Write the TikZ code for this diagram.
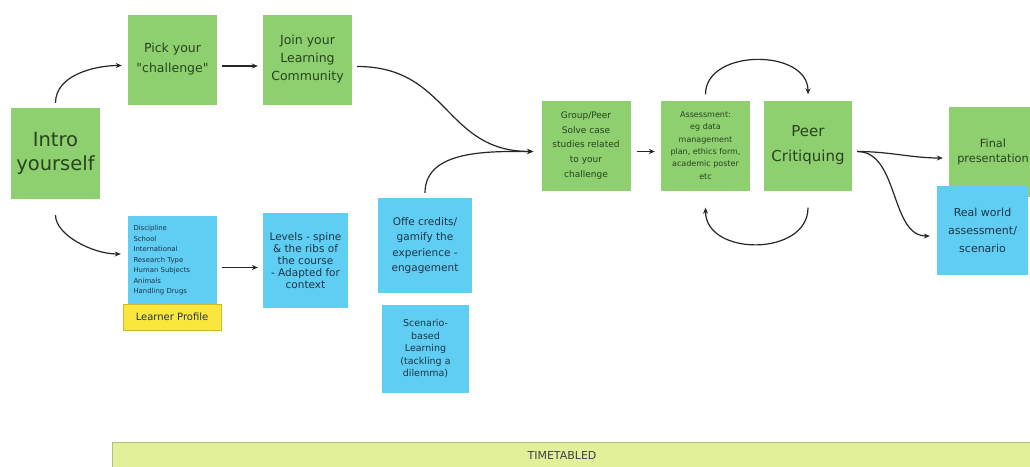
\documentclass[tikz,border=0pt]{standalone}
\usepackage{fontspec}
\setmainfont{DejaVu Sans}
\usetikzlibrary{arrows.meta}

\definecolor{notegreen}{RGB}{142,207,112}
\definecolor{noteblue}{RGB}{96,205,243}
\definecolor{noteyellow}{RGB}{250,230,60}
\definecolor{yellowedge}{RGB}{205,185,45}
\definecolor{greentext}{RGB}{40,68,30}
\definecolor{bluetext}{RGB}{32,52,72}
\definecolor{ttfill}{RGB}{226,240,154}
\definecolor{ttedge}{RGB}{178,188,132}

% size and line distance
\newcommand{\fsz}[2]{\fontsize{#1}{#2}\selectfont}

\begin{document}
\begin{tikzpicture}[x=1pt, y=-1pt,
  greennote/.style={fill=notegreen, text=greentext, align=center,
    minimum width=89pt, minimum height=90pt, inner sep=3pt},
  bluenote/.style={fill=noteblue, text=bluetext, align=center,
    minimum width=89pt, minimum height=90pt, inner sep=3pt},
  arr/.style={-{Stealth[length=6pt, width=5pt]}, line width=1.2pt, black!85},
]
  \clip (0,0) rectangle (1030,466);
  \fill[white] (0,0) rectangle (1030,466);
  % green path across the top
  \node[greennote, minimum height=91pt, font=\fsz{19.5}{24}] (intro) at (55.5,153.5) {Intro\\yourself};
  \node[greennote, font=\fsz{12.5}{20}] (pick) at (172.5,59.5) {Pick your\\\textquotedbl challenge\textquotedbl};
  \node[greennote, font=\fsz{12.5}{18}] (join) at (307.5,59.5) {Join your\\Learning\\Community};
  \node[greennote, font=\fsz{9}{14.7}] (group) at (586,145.5) {Group/Peer\\Solve case\\studies related\\to your\\challenge};
  \node[greennote, font=\fsz{8}{12.4}] (assess) at (705.5,145.5) {Assessment:\\eg data\\management\\plan, ethics form,\\academic poster\\etc};
  \node[greennote, minimum width=88pt, font=\fsz{15}{25}] (critique) at (808,145.5) {Peer\\Critiquing};
  \node[greennote, minimum width=88pt, font=\fsz{11.3}{15}] (final) at (993,152) {Final\\presentation};
  % blue notes
  \node[bluenote, minimum height=89pt, align=left, text width=78pt, inner sep=5.5pt,
    font=\fsz{6.9}{10.5}] (learner) at (172.5,260.5)
    {Discipline\\School\\International\\Research Type\\Human Subjects\\Animals\\Handling Drugs};
  \node[fill=noteyellow, draw=yellowedge, text=bluetext, minimum width=98pt,
    minimum height=26pt, font=\fsz{10}{12}] (profile) at (172,317) {Learner Profile};
  \node[bluenote, minimum width=85pt, minimum height=95pt, font=\fsz{10.5}{12.2}] (levels) at (305.5,260.5)
    {Levels - spine\\\& the ribs of\\the course\\- Adapted for\\context};
  \node[bluenote, minimum width=94pt, minimum height=95pt, font=\fsz{10.5}{15.3}] (credits) at (425,245.5)
    {Offe credits/\\gamify the\\experience -\\engagement};
  \node[bluenote, minimum width=87pt, minimum height=88pt, font=\fsz{9.5}{12.5}] (scenario) at (425.5,349)
    {Scenario-\\based\\Learning\\(tackling a\\dilemma)};
  \node[bluenote, minimum width=91pt, minimum height=89pt, font=\fsz{11}{18}] (realworld) at (982.5,230.5)
    {Real world\\assessment/\\scenario};
  % timetabled bar
  \draw[fill=ttfill, draw=ttedge, line width=0.8pt] (112,442) rectangle (1040,472);
  \node[text=black!75, font=\fsz{11}{13}] (timetable) at (562,455.5) {TIMETABLED};
  % connectors
  \draw[arr, shorten <=5pt, shorten >=6pt] (intro.north) to[out=90, in=180] ([yshift=-6pt]pick.west);
  \draw[arr, shorten <=16pt, shorten >=7pt] (intro.south) to[out=-90, in=180] ([yshift=6.5pt]learner.west);
  \draw[arr, shorten <=5pt, shorten >=5pt] ([yshift=-6.5pt]pick.east) -- ([yshift=-6.5pt]join.west);
  \draw[arr, shorten <=5pt, shorten >=5pt] ([yshift=-7pt]learner.east) -- ([yshift=-7pt]levels.west);
  \draw[arr, shorten <=5pt, shorten >=8pt] ([yshift=-7pt]join.east) to[out=0, in=180, looseness=1.2] ([yshift=-6pt]group.west);
  \draw[arr, shorten <=5pt, shorten >=8pt] (credits.north) to[out=90, in=180] ([yshift=-6pt]group.west);
  \draw[arr, shorten <=6pt, shorten >=6pt] ([yshift=-6pt]group.east) -- ([yshift=-6pt]assess.west);
  \draw[arr, shorten <=6pt, shorten >=6pt] (assess.north) to[out=90, in=90, looseness=1.3] (critique.north);
  \draw[arr, shorten <=17pt, shorten >=17pt] (critique.south) to[out=-90, in=-90, looseness=1.65] (assess.south);
  \draw[arr, shorten <=5pt, shorten >=6pt] ([yshift=-6pt]critique.east) to[out=0, in=180] ([yshift=-6pt]final.west);
  \draw[arr, shorten <=5pt, shorten >=7pt] ([yshift=-6pt]critique.east) to[out=0, in=180] ([yshift=-5.5pt]realworld.west);
\end{tikzpicture}
\end{document}
